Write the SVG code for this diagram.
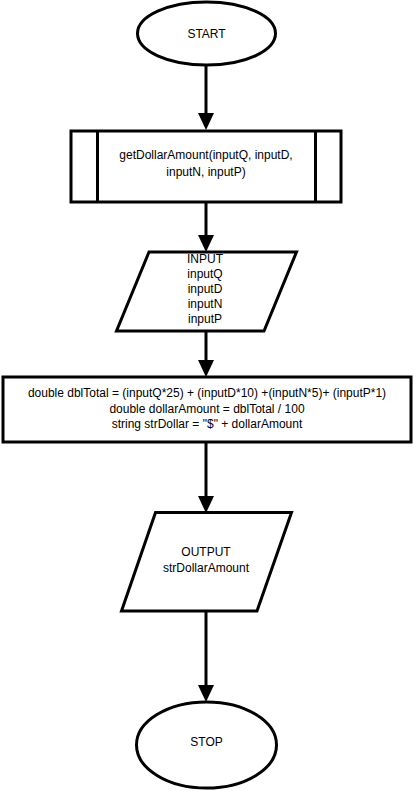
<svg xmlns="http://www.w3.org/2000/svg" width="414" height="791" viewBox="0 0 414 791">
<style>
.s{fill:#fff;stroke:#000;stroke-width:3}
.t{font-family:"Liberation Sans",Arial,sans-serif;font-size:12px;fill:#000;text-anchor:middle;dominant-baseline:central}
.c{stroke:#000;stroke-width:3;fill:none}
.a{stroke:#000;stroke-width:3;fill:none;marker-end:url(#ah)}
</style>
<defs>
<marker id="ah" markerWidth="17" markerHeight="16" viewBox="0 0 17 16" refX="1" refY="8" orient="auto" markerUnits="userSpaceOnUse">
<path d="M0,0 L17,8 L0,16 Z" fill="#000"/>
</marker>
</defs>
<rect width="414" height="791" fill="#fff"/>
<g id="connectors">
<line class="a" x1="206" y1="66" x2="206" y2="114"/>
<line class="a" x1="206" y1="203" x2="206" y2="236"/>
<line class="a" x1="206" y1="332" x2="206" y2="361"/>
<line class="a" x1="206" y1="443" x2="206" y2="497"/>
<line class="a" x1="206" y1="612" x2="206" y2="686"/>
</g>
<g id="start">
<ellipse class="s" cx="206.5" cy="33.5" rx="69" ry="31.5"/>
<text class="t" x="206.5" y="33.5">START</text>
</g>
<g id="call">
<rect class="s" x="71" y="131" width="270" height="71"/>
<line class="c" x1="97.5" y1="131" x2="97.5" y2="202"/>
<line class="c" x1="315.5" y1="131" x2="315.5" y2="202"/>
<text class="t" x="206" y="155">getDollarAmount(inputQ, inputD,</text>
<text class="t" x="206" y="172">inputN, inputP)</text>
</g>
<g id="input">
<path class="s" d="M149,252 L296.5,252 L264,331 L116.5,331 Z"/>
<text class="t" x="205" y="259">INPUT</text>
<text class="t" x="205" y="274">inputQ</text>
<text class="t" x="205" y="289">inputD</text>
<text class="t" x="205" y="304">inputN</text>
<text class="t" x="205" y="319">inputP</text>
</g>
<g id="compute">
<rect class="s" x="3" y="377" width="408" height="65"/>
<text class="t" x="207" y="393">double dblTotal = (inputQ*25) + (inputD*10) +(inputN*5)+ (inputP*1)</text>
<text class="t" x="207" y="408.5">double dollarAmount = dblTotal / 100</text>
<text class="t" x="207" y="424">string strDollar = "$" + dollarAmount</text>
</g>
<g id="output">
<path class="s" d="M155.5,512.5 L291.5,512.5 L257,611 L121.5,611 Z"/>
<text class="t" x="206" y="551.5">OUTPUT</text>
<text class="t" x="206" y="567.5">strDollarAmount</text>
</g>
<g id="stop">
<ellipse class="s" cx="206.5" cy="745" rx="70" ry="43"/>
<text class="t" x="206.5" y="742">STOP</text>
</g>
</svg>
